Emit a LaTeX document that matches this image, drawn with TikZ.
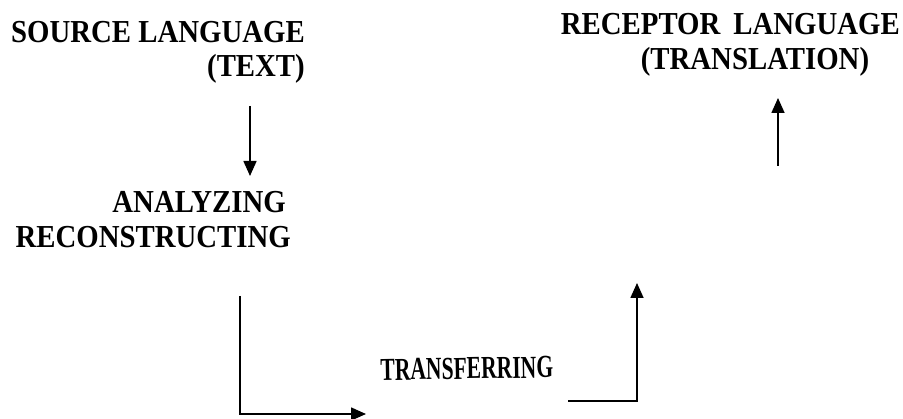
\documentclass[tikz,border=0pt]{standalone}
\usepackage{fontspec}
\setmainfont{Liberation Serif}
\usetikzlibrary{arrows.meta}
\newcommand{\nar}[2][0.9]{\scalebox{#1}[1]{#2}}
\begin{document}
\begin{tikzpicture}[x=1pt,y=-1pt,
  lbl/.style={inner sep=0pt,font=\fontsize{32}{32}\selectfont\bfseries},
  conn/.style={line width=1.6pt,-{Triangle[length=15pt,width=13pt]}}]
\useasboundingbox (0,0) rectangle (903,419);
\node[lbl,anchor=base east] (src1) at (305,43) {\nar{SOURCE LANGUAGE}};
\node[lbl,anchor=base east] (src2) at (305,77) {\nar{(TEXT)}};
\node[lbl,anchor=base east] (ana1) at (286,213) {\nar{ANALYZING}};
\node[lbl,anchor=base east] (ana2) at (291,248) {\nar{RECONSTRUCTING}};
\node[lbl,anchor=base east] (rec1) at (900,35) {\nar{RECEPTOR\hspace{0.2em} LANGUAGE}};
\node[lbl,anchor=base] (rec2) at (755,70) {\nar{(TRANSLATION)}};
\node[lbl,anchor=base,rotate=1] (tra) at (467,379) {\nar[0.675]{TRANSFERRING}};
\coordinate (a1s) at (250,106);
\coordinate (a1e) at (250,176);
\coordinate (a2s) at (778,166);
\coordinate (a2e) at (778,98);
\coordinate (a3s) at (240,296);
\coordinate (a3e) at (366,414);
\coordinate (a4s) at (568,401);
\coordinate (a4e) at (637,283);
\draw[conn] (a1s) -- (a1e);
\draw[conn] (a2s) -- (a2e);
\draw[conn] (a3s) |- (a3e);
\draw[conn] (a4s) -| (a4e);
\end{tikzpicture}
\end{document}
